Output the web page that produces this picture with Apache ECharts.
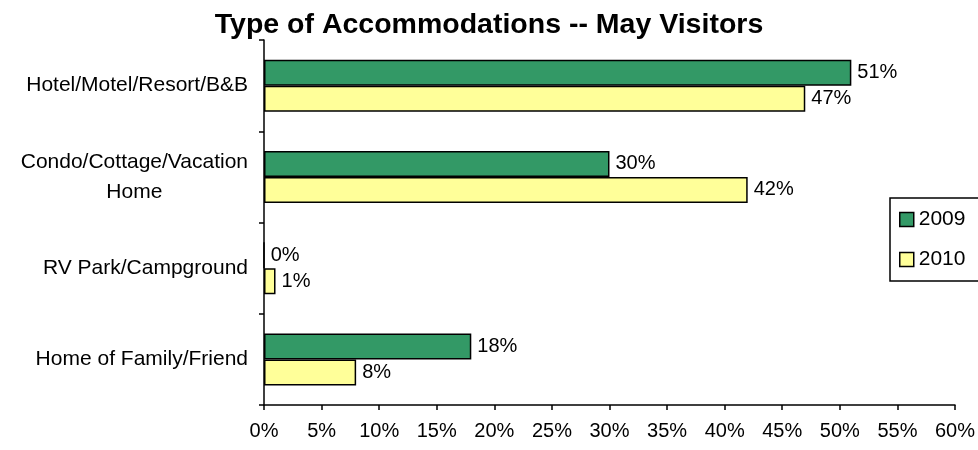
<!DOCTYPE html>
<html>
<head>
<meta charset="utf-8">
<script src="https://cdn.jsdelivr.net/npm/echarts@6/dist/echarts.min.js"></script>
<style>
  html, body { margin: 0; padding: 0; background: #fff; }
  #chart { width: 978px; height: 450px; }
</style>
</head>
<body>
<div id="chart"></div>
<script>
// data
var categories = ['Hotel/Motel/Resort/B&B', 'Condo/Cottage/Vacation\nHome', 'RV Park/Campground', 'Home of Family/Friend'];
var seriesNames = ['2009', '2010'];
var values2009 = [51, 30, 0, 18];
var values2010 = [47, 42, 1, 8];
var xTicks = [0, 60, 5]; // min, max, step

var font = 'Arial, "Liberation Sans", sans-serif';
var myChart = echarts.init(document.getElementById('chart'));

function barSeries(name, data, color) {
  return {
    name: name,
    type: 'bar',
    data: data,
    barWidth: 26,
    barGap: '0%',
    itemStyle: { color: color, borderColor: '#000', borderWidth: 1.5 },
    label: {
      show: true,
      position: 'right',
      distance: 6,
      formatter: '{c}%',
      color: '#000',
      fontFamily: font,
      fontSize: 20
    }
  };
}

var option = {
  animation: false,
  backgroundColor: '#fff',
  title: {
    text: 'Type of Accommodations -- May Visitors',
    left: 'center',
    top: 6,
    textStyle: { fontFamily: font, fontSize: 28.5, fontWeight: 'bold', color: '#000' }
  },
  legend: {
    orient: 'vertical',
    left: 890,
    top: 198,
    padding: [11, 40, 11, 9],
    itemGap: 19,
    itemWidth: 14,
    itemHeight: 14,
    icon: 'rect',
    borderColor: '#000',
    borderWidth: 1.5,
    itemStyle: { borderColor: '#000', borderWidth: 1.5 },
    textStyle: { fontFamily: font, fontSize: 21, color: '#000' },
    data: seriesNames
  },
  grid: { left: 264, right: 23, top: 40, bottom: 45 },
  xAxis: {
    type: 'value',
    min: xTicks[0],
    max: xTicks[1],
    interval: xTicks[2],
    splitLine: { show: false },
    axisLine: { show: true, lineStyle: { color: '#000', width: 1.5 } },
    axisTick: { show: true, length: 5, lineStyle: { color: '#000', width: 1.5 } },
    axisLabel: { formatter: '{value}%', color: '#000', fontFamily: font, fontSize: 20, margin: 16 }
  },
  yAxis: {
    type: 'category',
    inverse: true,
    data: categories,
    axisLine: { show: true, lineStyle: { color: '#000', width: 1.5 } },
    axisTick: { show: true, length: 5, lineStyle: { color: '#000', width: 1.5 } },
    axisLabel: {
      color: '#000',
      fontFamily: font,
      fontSize: 21,
      margin: 16,
      formatter: function (v) {
        return v.split('\n').map(function (s) { return '{c|' + s + '}'; }).join('\n');
      },
      rich: { c: { align: 'center', fontFamily: font, fontSize: 21, lineHeight: 30, color: '#000' } }
    }
  },
  series: [
    barSeries(seriesNames[0], values2009, '#339966'),
    barSeries(seriesNames[1], values2010, '#FFFF99')
  ]
};
myChart.setOption(option);
</script>
</body>
</html>
